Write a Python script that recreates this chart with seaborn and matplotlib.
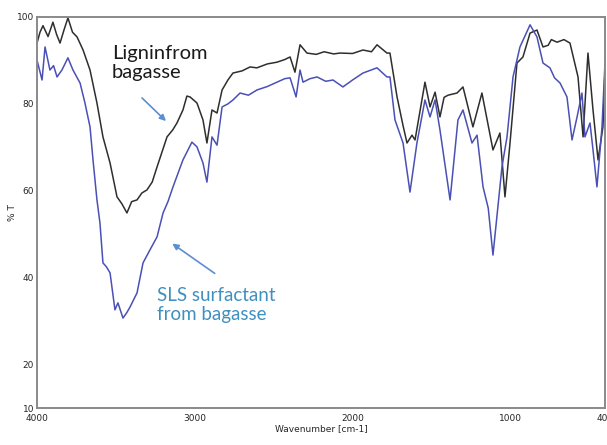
import matplotlib
matplotlib.use("Agg")
import matplotlib.pyplot as plt
import seaborn as sns
import pandas as pd

# Lignin from bagasse (black trace)
lignin_wn = [4000, 3981, 3962, 3930, 3899, 3876, 3854, 3829, 3804, 3775, 3746, 3708, 3664, 3620,
             3582, 3537, 3493, 3462, 3430, 3400, 3366, 3335, 3303, 3270, 3239, 3176, 3140, 3113,
             3075, 3050, 3030, 2986, 2948, 2923, 2891, 2859, 2827, 2790, 2758, 2700, 2650, 2606,
             2540, 2479, 2430, 2396, 2365, 2333, 2289, 2230, 2180, 2120, 2080, 2000, 1934, 1880,
             1845, 1782, 1763, 1718, 1680, 1655, 1623, 1604, 1541, 1509, 1477, 1446, 1420, 1395,
             1338, 1300, 1237, 1180, 1110, 1066, 1034, 1002, 958, 920, 875, 831, 793, 760, 740,
             704, 660, 622, 571, 539, 508, 476, 444, 413, 400]
lignin_t = [94.0, 96.5, 98.0, 95.5, 98.8, 96.0, 94.0, 97.0, 99.8, 96.5, 95.4, 92.4, 87.8, 80.2,
            72.4, 66.4, 58.6, 57.0, 54.9, 57.5, 57.9, 59.5, 60.2, 62.0, 65.5, 72.4, 74.0, 75.6,
            78.6, 81.8, 81.6, 80.2, 76.3, 71.0, 78.6, 77.9, 83.2, 85.5, 87.1, 87.6, 88.5, 88.3,
            89.2, 89.6, 90.2, 90.8, 87.3, 93.6, 91.7, 91.4, 92.0, 91.5, 91.7, 91.6, 92.4, 92.0,
            93.6, 91.7, 91.7, 81.6, 75.0, 71.0, 72.8, 71.7, 85.0, 79.3, 82.7, 77.0, 81.5, 82.0,
            82.5, 83.9, 74.7, 82.5, 69.4, 73.3, 58.6, 71.0, 89.4, 90.8, 96.3, 97.0, 93.1, 93.5,
            94.8, 94.2, 94.8, 94.0, 86.2, 72.4, 91.7, 78.6, 67.1, 74.7, 87.8]

# SLS surfactant from bagasse (blue trace)
sls_wn = [4000, 3968, 3949, 3918, 3895, 3873, 3842, 3804, 3772, 3727, 3696, 3664, 3645, 3620,
          3601, 3582, 3560, 3537, 3506, 3487, 3455, 3430, 3411, 3366, 3328, 3284, 3239, 3201,
          3170, 3138, 3075, 3018, 2986, 2948, 2923, 2891, 2859, 2827, 2790, 2758, 2713, 2660,
          2606, 2540, 2479, 2430, 2396, 2358, 2333, 2314, 2270, 2225, 2170, 2124, 2061, 2000,
          1934, 1845, 1782, 1763, 1731, 1680, 1636, 1592, 1541, 1509, 1477, 1446, 1382, 1332,
          1300, 1243, 1211, 1173, 1140, 1110, 1053, 1021, 983, 939, 875, 831, 793, 749, 720,
          685, 641, 609, 577, 546, 527, 495, 476, 451, 419, 400]
sls_t = [90.1, 85.5, 93.1, 87.8, 88.8, 86.2, 87.8, 90.6, 87.8, 84.8, 80.2, 74.7, 67.1, 57.9,
         52.6, 43.4, 42.5, 41.1, 32.6, 34.2, 30.7, 32.0, 33.2, 36.5, 43.4, 46.4, 49.4, 54.9,
         57.5, 60.9, 67.1, 71.2, 70.1, 66.4, 62.0, 72.4, 70.5, 79.3, 80.0, 80.9, 82.5, 82.0,
         83.2, 84.0, 85.0, 85.8, 86.0, 81.6, 87.8, 85.0, 85.8, 86.2, 85.2, 85.5, 83.9, 85.5,
         87.1, 88.3, 86.2, 86.2, 76.3, 71.0, 59.7, 71.0, 80.9, 77.0, 80.9, 74.0, 57.9, 76.3,
         78.6, 71.0, 72.8, 60.9, 56.0, 45.2, 65.5, 72.4, 86.2, 93.1, 98.2, 95.4, 89.4, 88.3,
         86.0, 84.8, 81.6, 71.7, 77.0, 82.5, 72.4, 75.6, 69.4, 60.9, 74.7, 89.4]

x_ticks = [4000, 3000, 2000, 1000, 400]
y_ticks = [10, 20, 30, 40, 50, 60, 70, 80, 90, 100]
y_labels = ["10", "20", "", "40", "", "60", "", "80", "", "100"]

sns.set_style("white")
plt.rcParams['font.family'] = ['DejaVu Sans']

fig = plt.figure(figsize=(6.07, 4.45), dpi=100)
ax = fig.add_axes([37/607, 1-408/445, (605-37)/607, (408-17)/445])

df_l = pd.DataFrame({"wn": lignin_wn, "t": lignin_t})
df_s = pd.DataFrame({"wn": sls_wn, "t": sls_t})
sns.lineplot(data=df_l, x="wn", y="t", ax=ax, color="#2e2e2e", lw=1.1, estimator=None, sort=False)
sns.lineplot(data=df_s, x="wn", y="t", ax=ax, color="#4a50b5", lw=1.1, estimator=None, sort=False)

ax.set_xlim(4000, 400)
ax.set_ylim(10, 100)
ax.set_xticks(x_ticks)
ax.set_xticks([3500, 2500, 1500, 500], minor=True)
ax.set_xticklabels([str(v) for v in x_ticks])
ax.set_yticks(y_ticks)
ax.set_yticklabels(y_labels)
ax.tick_params(axis="both", which="both", direction="in", labelsize=6.5, length=4,
               color="#555555", pad=2)
ax.tick_params(axis="x", which="major", length=6, pad=4)
tick_font = ['Liberation Sans Narrow', 'DejaVu Sans']
for lab in ax.get_xticklabels() + ax.get_yticklabels():
    lab.set_family(tick_font)
for s in ax.spines.values():
    s.set_color("#8a8a8a")
    s.set_linewidth(1.4)

ax.set_xlabel("Wavenumber [cm-1]", fontsize=6.5, family=tick_font, labelpad=1)
ax.set_ylabel("% T", fontsize=6.5, family=tick_font)
ax.yaxis.set_label_coords(-0.036, 0.5)

ann_font = ['Lato', 'DejaVu Sans']
fig.text(112/607, 1-63/445, "Ligninfrom\nbagasse", fontsize=14.5, family=ann_font,
         color="#1a1a1a", ha="left", va="center", linespacing=1.2)
fig.text(157/607, 1-305/445, "SLS surfactant\nfrom bagasse", fontsize=13.5, family=ann_font,
         color="#3f90c0", ha="left", va="center", linespacing=1.2)

ax.annotate("", xy=(168, 445-123), xycoords="figure pixels",
            xytext=(140, 445-96), textcoords="figure pixels",
            arrowprops=dict(arrowstyle="-|>", color="#5b8fd0", lw=1.2, mutation_scale=9))
ax.annotate("", xy=(170, 445-242), xycoords="figure pixels",
            xytext=(217, 445-275), textcoords="figure pixels",
            arrowprops=dict(arrowstyle="-|>", color="#5b8fd0", lw=1.2, mutation_scale=9))

fig.savefig("out.png", dpi=100)
